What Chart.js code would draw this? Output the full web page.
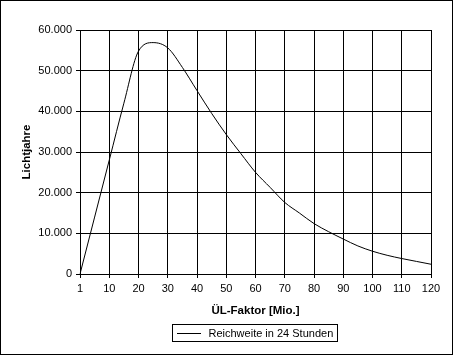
<!DOCTYPE html>
<html>
<head>
<meta charset="utf-8">
<script src="https://cdn.jsdelivr.net/npm/chart.js@4/dist/chart.umd.min.js"></script>
<style>
  html, body { margin: 0; padding: 0; background: #fff; }
  #wrap { width: 453px; height: 355px; position: relative; }
</style>
</head>
<body>
<div id="wrap"><canvas id="c" width="453" height="355"></canvas></div>
<script>
// Categories (ÜL-Faktor in Mio.)
const categories = [1, 5, 10, 15, 20, 25, 30, 35, 40, 45, 50, 55, 60, 65, 70, 75, 80, 85, 90, 95, 100, 105, 110, 115, 120];
// Series: Reichweite in 24 Stunden (Lichtjahre)
const reichweite = [0, 14000, 28000, 42000, 54800, 56900, 55600, 50800, 45100, 39500, 34300, 29600, 25000, 21300, 17600, 15000, 12400, 10400, 8600, 6900, 5600, 4600, 3800, 3100, 2400];
const seriesLabel = 'Reichweite in 24 Stunden';
const xTitle = 'ÜL-Faktor [Mio.]';
const yTitle = 'Lichtjahre';
const yTickMin = 0, yTickMax = 60000, yTickStep = 10000;

const FONT = '"Liberation Sans", Arial, sans-serif';

const frame = {
  id: 'frame',
  afterDraw(chart) {
    const ctx = chart.ctx;
    ctx.save();
    ctx.strokeStyle = '#000';
    ctx.lineWidth = 1;
    // legend box
    ctx.strokeRect(172.5, 324.5, 165, 17);
    ctx.beginPath();
    ctx.moveTo(177, 333.5);
    ctx.lineTo(201, 333.5);
    ctx.stroke();
    ctx.fillStyle = '#000';
    ctx.font = '11px ' + FONT;
    ctx.textBaseline = 'middle';
    ctx.textAlign = 'left';
    ctx.fillText(chart.data.datasets[0].label, 208.5, 334);
    // outer border
    ctx.strokeRect(0.5, 0.5, 452, 354);
    ctx.restore();
  }
};

new Chart(document.getElementById('c'), {
  type: 'line',
  data: {
    labels: categories,
    datasets: [{
      label: seriesLabel,
      data: reichweite,
      borderColor: '#000',
      borderWidth: 1,
      pointRadius: 0,
      fill: false,
      cubicInterpolationMode: 'monotone'
    }]
  },
  options: {
    responsive: false,
    animation: false,
    events: [],
    layout: { padding: { left: 0, top: 30, right: 22, bottom: 37 } },
    plugins: {
      legend: { display: false },
      tooltip: { enabled: false }
    },
    scales: {
      x: {
        type: 'category',
        offset: false,
        afterFit(scale) { scale.height = 44; },
        grid: {
          color: (c) => (c.index % 2 === 0 ? '#000' : 'rgba(0,0,0,0)'),
          lineWidth: 1,
          tickLength: 4,
          drawTicks: true
        },
        border: { display: true, color: '#000', width: 1 },
        ticks: {
          autoSkip: false,
          maxRotation: 0,
          minRotation: 0,
          padding: 4,
          color: '#000',
          font: { family: FONT, size: 11 },
          callback: function (v, i) { return i % 2 === 0 ? String(categories[i]) : ''; }
        },
        title: {
          display: true,
          text: xTitle,
          color: '#000',
          font: { family: FONT, size: 11.5, weight: 'bold' },
          padding: { top: 0, bottom: 0 }
        }
      },
      y: {
        min: yTickMin,
        max: yTickMax,
        afterFit(scale) { scale.width = 80; },
        grid: { color: '#000', lineWidth: 1, tickLength: 4 },
        border: { display: true, color: '#000', width: 1 },
        ticks: {
          stepSize: yTickStep,
          padding: 4,
          color: '#000',
          font: { family: FONT, size: 11 },
          callback: (v) => v === 0 ? '0' : v.toLocaleString('de-DE', { minimumFractionDigits: 0 }).replace(/,/g, '.')
        },
        title: {
          display: true,
          text: yTitle,
          color: '#000',
          font: { family: FONT, size: 11.5, weight: 'bold' },
          padding: { top: 20, bottom: 0 }
        }
      }
    }
  },
  plugins: [frame]
});
</script>
</body>
</html>
